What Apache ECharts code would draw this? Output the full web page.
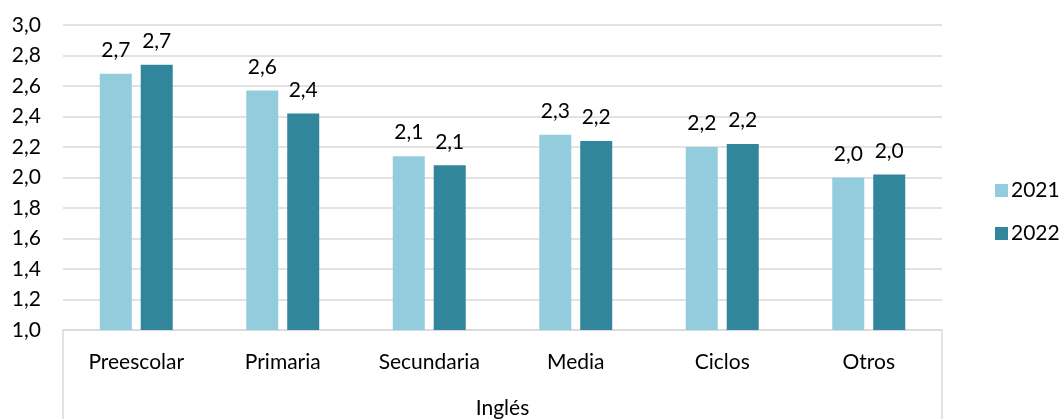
<!DOCTYPE html>
<html><head><meta charset="utf-8">
<script src="https://cdn.jsdelivr.net/npm/echarts@6/dist/echarts.min.js"></script>
<style>html,body{margin:0;padding:0;background:#fff}#c{width:1064px;height:419px}</style>
</head><body><div id="c"></div>
<script>
const categories = ['Preescolar','Primaria','Secundaria','Media','Ciclos','Otros'];
const groupLabel = ['Inglés'];
const values2021 = [2.68, 2.57, 2.14, 2.28, 2.20, 2.00];
const values2022 = [2.74, 2.42, 2.08, 2.24, 2.22, 2.02];
const seriesNames = ['2021','2022'];
const yTicks = {min: 1.0, max: 3.0, step: 0.2};

const FONT = 'Lato';
const FS = 21;
const fmt = v => Number(v).toFixed(1).replace('.', ',');
const chart = echarts.init(document.getElementById('c'), null, {renderer:'canvas'});
const lbl = {show:true, position:'top', distance:13, color:'#000', fontFamily:FONT, fontSize:FS,
  formatter: p => fmt(p.value)};
chart.setOption({
  animation:false,
  textStyle:{fontFamily:FONT},
  grid:{left:63, right:122, top:25, bottom:87},
  legend:{orient:'vertical', left:995, top:180, padding:0, itemWidth:13, itemHeight:13, itemGap:22,
    textStyle:{fontFamily:FONT, fontSize:FS, color:'#000', padding:[0,0,0,-2]}, data:seriesNames, icon:'rect'},
  xAxis:[{type:'category', data:categories, position:'bottom',
    axisLine:{show:true, lineStyle:{color:'#d9d9d9', width:1.5}},
    axisTick:{show:false},
    axisLabel:{color:'#000', fontFamily:FONT, fontSize:FS, margin:22}},
   {type:'category', data:groupLabel, position:'bottom', offset:0,
    axisLine:{show:false},
    axisTick:{show:true, length:90, lineStyle:{color:'#d9d9d9', width:1.5}},
    axisLabel:{color:'#000', fontFamily:FONT, fontSize:FS, margin:68}}],
  yAxis:{type:'value', min:yTicks.min, max:yTicks.max, interval:yTicks.step,
    axisLine:{show:false}, axisTick:{show:false},
    splitLine:{lineStyle:{color:'#d9d9d9', width:1.5}},
    axisLabel:{color:'#000', fontFamily:FONT, fontSize:FS, margin:22, formatter: v => fmt(v)}},
  series:[
    {name:seriesNames[0], type:'bar', data:values2021, barWidth:32, barGap:'28%',
     itemStyle:{color:'#93CDDD'}, label:lbl, xAxisIndex:0},
    {name:seriesNames[1], type:'bar', data:values2022, barWidth:32, barGap:'28%',
     itemStyle:{color:'#31869B'}, label:lbl, xAxisIndex:0}
  ]
});
</script></body></html>
